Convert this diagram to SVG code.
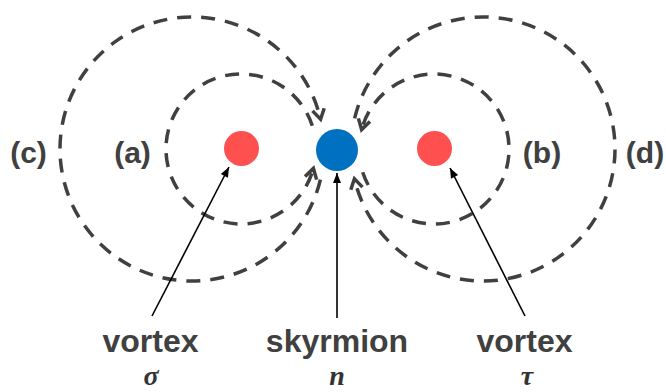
<svg xmlns="http://www.w3.org/2000/svg" width="666" height="392" viewBox="0 0 666 392">
<style>
.loop{fill:none;stroke:#404040;stroke-width:3.5;stroke-dasharray:14 10;marker-end:url(#chev)}
.ptr{fill:none;stroke:#000;stroke-width:1.6;marker-end:url(#tri)}
.lbl{font-family:"Liberation Sans",Arial,sans-serif;font-weight:bold;fill:#404040;text-anchor:middle}
.tag{font-size:30px}
.name{font-size:32px}
.sym{font-family:"Liberation Serif","Times New Roman",serif;font-style:italic;font-weight:bold;font-size:28px;fill:#333;text-anchor:middle}
.vortex{fill:#FF5050}
.sky{fill:#0070C0}
</style>
<defs>
<marker id="chev" markerUnits="userSpaceOnUse" markerWidth="24" markerHeight="24" viewBox="-12 -12 24 24" refX="0" refY="0" orient="auto" overflow="visible">
<path d="M-10,-6 L0,0 L-10,6" fill="none" stroke="#404040" stroke-width="3.5" stroke-dasharray="none"/>
</marker>
<marker id="tri" markerUnits="userSpaceOnUse" markerWidth="14" markerHeight="14" viewBox="-12 -7 14 14" refX="0" refY="0" orient="auto" overflow="visible">
<path d="M-10,-4 L0,0 L-10,4 z" fill="#000"/>
</marker>
</defs>
<g id="connectors">
<path id="loop-a" class="loop" d="M312.3,125.8 A75,75 0 1 0 313.4,168.4"/>
<path id="loop-c" class="loop" d="M320.4,179.6 A132,132 0 1 1 320.6,119.3"/>
<path id="loop-b" class="loop" d="M362.7,172.2 A75,75 0 1 0 361.6,129.6"/>
<path id="loop-d" class="loop" d="M354.6,118.4 A132,132 0 1 1 354.4,178.7"/>
<line class="ptr" x1="152" y1="316" x2="229" y2="167"/>
<line class="ptr" x1="337" y1="318" x2="337" y2="173"/>
<line class="ptr" x1="525" y1="316" x2="450" y2="168"/>
</g>
<g id="vortex-sigma">
<circle class="vortex" cx="241.5" cy="148.5" r="17.5"/>
<text class="lbl name" x="150.5" y="352">vortex</text>
<text class="sym" x="151" y="385">σ</text>
</g>
<g id="skyrmion-n">
<circle class="sky" cx="337" cy="150" r="21"/>
<text class="lbl name" x="337" y="352">skyrmion</text>
<text class="sym" x="337" y="385">n</text>
</g>
<g id="vortex-tau">
<circle class="vortex" cx="434.5" cy="148.5" r="17.5"/>
<text class="lbl name" x="524.5" y="352">vortex</text>
<text class="sym" x="527" y="385">τ</text>
</g>
<g id="labels">
<text class="lbl tag" x="28.5" y="163">(c)</text>
<text class="lbl tag" x="132.5" y="163">(a)</text>
<text class="lbl tag" x="542" y="163">(b)</text>
<text class="lbl tag" x="645" y="163">(d)</text>
</g>
</svg>
